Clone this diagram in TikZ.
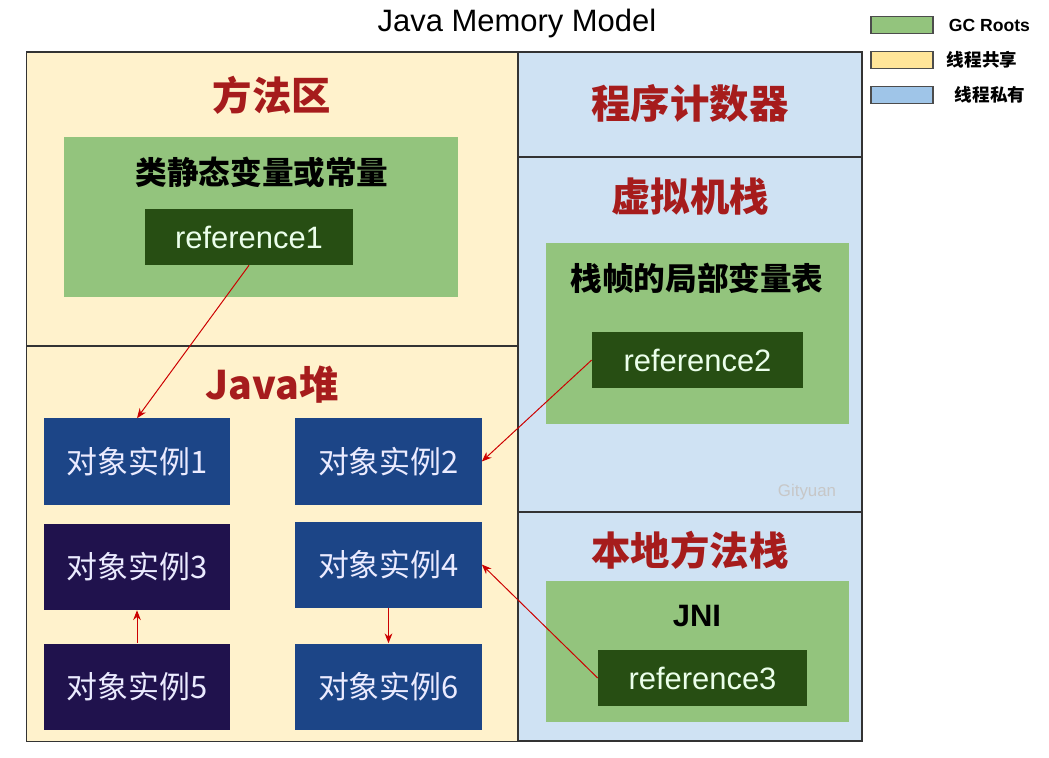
\documentclass[tikz,border=0pt]{standalone}
\usepackage{fontspec}
\setmainfont{Liberation Sans}
\newfontfamily\cjk{Noto Sans CJK SC}
\usetikzlibrary{arrows.meta,positioning}

\definecolor{shared}{HTML}{FFF2CC}
\definecolor{private}{HTML}{CFE2F3}
\definecolor{gcgreen}{HTML}{93C47D}
\definecolor{refgreen}{HTML}{274E13}
\definecolor{objblue}{HTML}{1C4587}
\definecolor{objnavy}{HTML}{20124D}
\definecolor{areared}{HTML}{A61C1C}
\definecolor{keyyellow}{HTML}{FFE599}
\definecolor{keyblue}{HTML}{9FC5E8}

\begin{document}
\begin{tikzpicture}[
    x=0.025cm, y=-0.025cm,
    region/.style={rectangle, draw=black!80, line width=0.8pt, inner sep=0pt},
    areatitle/.style={text=areared, font={\cjk\bfseries\fontsize{28pt}{30pt}\selectfont}},
    gcroot/.style={rectangle, fill=gcgreen, inner sep=0pt},
    rootname/.style={text=black, font={\cjk\bfseries\fontsize{22.5pt}{24pt}\selectfont}},
    refbox/.style={rectangle, fill=refgreen, text=green!8, inner sep=0pt, minimum height=1.4cm, font={\fontsize{22pt}{24pt}\selectfont}},
    objbox/.style={rectangle, fill=objblue, text=white!92!blue, inner sep=0pt, minimum width=4.65cm, minimum height=2.15cm, font={\cjk\fontsize{22pt}{24pt}\selectfont}},
    legendbox/.style={rectangle, draw=black!70, line width=0.8pt, minimum width=1.55cm, minimum height=0.42cm, inner sep=0pt},
    legendtext/.style={anchor=west, font={\cjk\bfseries\fontsize{12.5pt}{14pt}\selectfont}},
    ptr/.style={-{Stealth[length=7pt,width=5.5pt]}, line width=0.7pt, draw=red!80!black}
]
    \useasboundingbox (0,0) rectangle (1049,757);

    \node [font={\fontsize{22pt}{24pt}\selectfont}] (title) at (517,23) {Java Memory Model};

    % legend
    \node [legendbox, fill=gcgreen] (lgc) at (902,25) {};
    \node [legendbox, fill=keyyellow] (lshared) at (902,60) {};
    \node [legendbox, fill=keyblue] (lprivate) at (902,95) {};
    \node [legendtext, font={\bfseries\fontsize{12.5pt}{14pt}\selectfont}] (tgc) at (944,25) {GC Roots};
    \node [legendtext] (tshared) at (942,60) {线程共享};
    \node [legendtext] (tprivate) at (950,95) {线程私有};

    % shared areas
    \node [region, fill=shared, minimum width=12.275cm, minimum height=7.35cm] (method) at (272.5,199) {};
    \node [region, fill=shared, minimum width=12.275cm, minimum height=9.875cm] (heap) at (272.5,543.5) {};
    % private areas
    \node [region, fill=private, minimum width=8.6cm, minimum height=2.625cm] (pc) at (690,104.5) {};
    \node [region, fill=private, minimum width=8.6cm, minimum height=8.875cm] (vmstack) at (690,334.5) {};
    \node [region, fill=private, minimum width=8.6cm, minimum height=5.725cm] (native) at (690,626.5) {};

    \node [areatitle] (tmethod) at (272,95) {方法区};
    \node [areatitle] (theap) at (272,385) {Java堆};
    \node [areatitle] (tpc) at (690,103) {程序计数器};
    \node [areatitle] (tvmstack) at (690,197) {虚拟机栈};
    \node [areatitle] (tnative) at (690,550) {本地方法栈};

    % gc roots
    \node [gcroot, minimum width=9.85cm, minimum height=4cm] (static) at (261,217) {};
    \node [rootname] (tstatic) at (262,172) {类静态变量或常量};
    \node [refbox, minimum width=5.2cm] (ref1) at (249,237) {reference1};

    \node [gcroot, minimum width=7.575cm, minimum height=4.525cm] (frame) at (697.5,333.5) {};
    \node [rootname] (tframe) at (697,278) {栈帧的局部变量表};
    \node [refbox, minimum width=5.275cm] (ref2) at (697.5,360) {reference2};

    \node [gcroot, minimum width=7.575cm, minimum height=3.525cm] (jni) at (697.5,651.5) {};
    \node [rootname, font={\bfseries\fontsize{22pt}{24pt}\selectfont}] (tjni) at (697,616) {JNI};
    \node [refbox, minimum width=5.225cm] (ref3) at (702.5,678) {reference3};

    \node [text=black!22, font={\fontsize{12pt}{14pt}\selectfont}] (mark) at (807,492) {Gityuan};

    % object instances
    \node [objbox] (obj1) at (137,461.5) {对象实例1};
    \node [objbox] (obj2) at (388.5,461.5) {对象实例2};
    \node [objbox, fill=objnavy] (obj3) at (137,567) {对象实例3};
    \node [objbox] (obj4) at (388.5,564.5) {对象实例4};
    \node [objbox, fill=objnavy] (obj5) at (137,686.5) {对象实例5};
    \node [objbox] (obj6) at (388.5,686.5) {对象实例6};

    \draw [ptr] (ref1.south) -- (obj1.north);
    \draw [ptr] (ref2.west) -- (obj2.east);
    \draw [ptr] (ref3.west) -- (obj4.east);
    \draw [ptr] (obj5.north) -- (obj3.south);
    \draw [ptr] (obj4.south) -- (obj6.north);
\end{tikzpicture}
\end{document}
